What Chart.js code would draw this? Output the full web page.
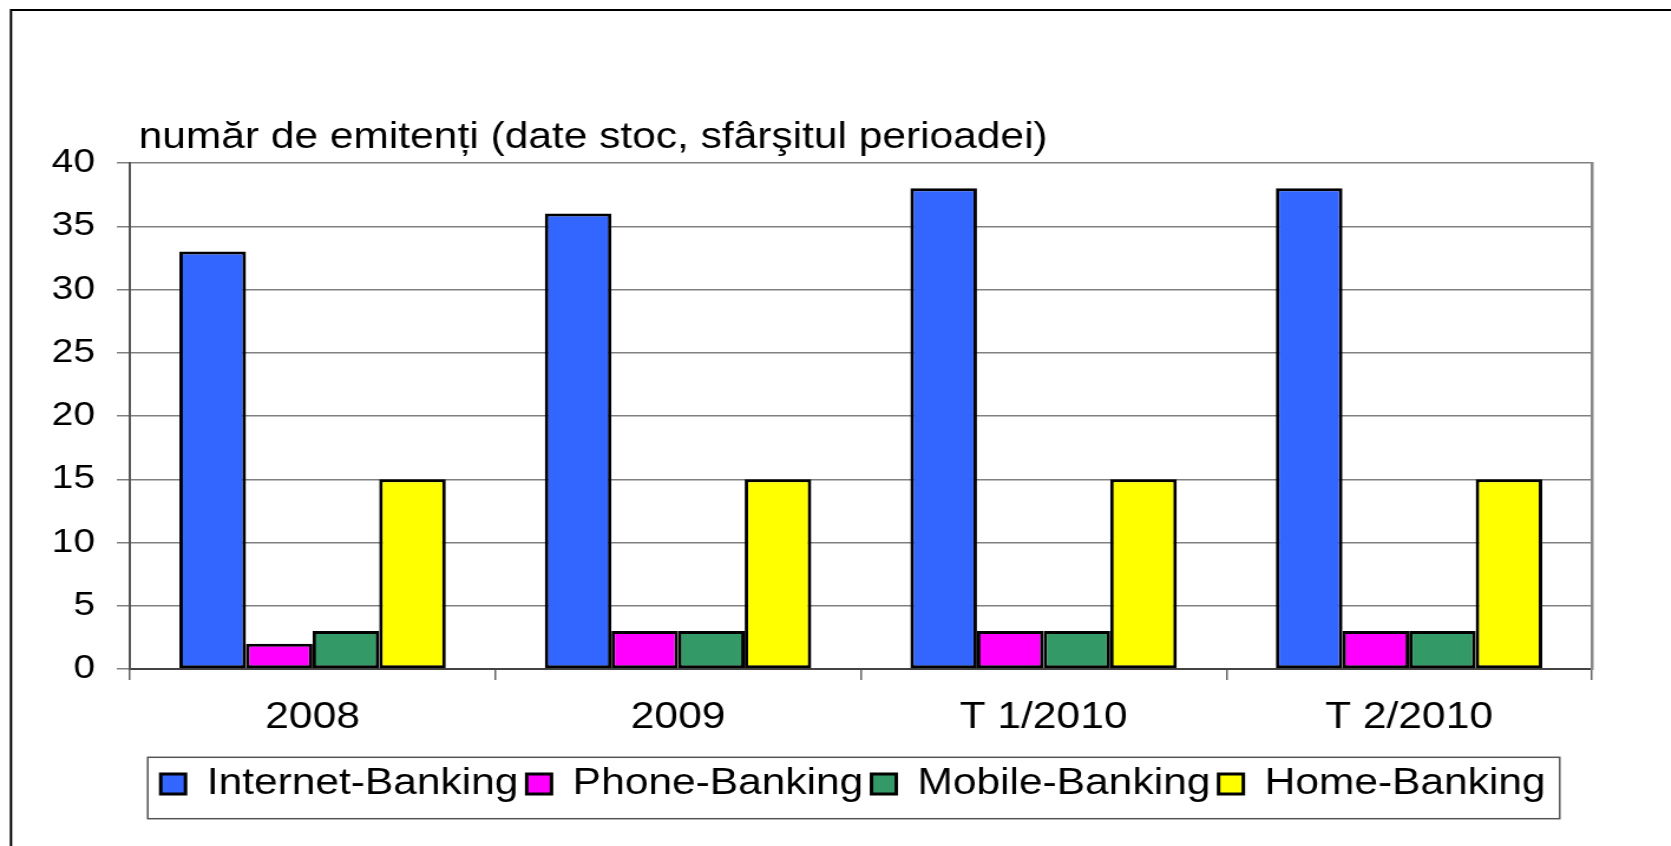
<!DOCTYPE html>
<html>
<head>
<meta charset="utf-8">
<script src="https://cdn.jsdelivr.net/npm/chart.js@4/dist/chart.umd.min.js"></script>
<style>
  html, body { margin: 0; padding: 0; background: #fff; overflow: hidden; }
  /* the original picture is stretched sideways, so the canvas is too */
  #wrap { width: 1416px; height: 846px; transform: scaleX(1.18); transform-origin: 0 0; }
</style>
</head>
<body>
<div id="wrap"><canvas id="bar-chart" width="1416" height="846"></canvas></div>
<script>
const FONT = '"Liberation Sans", Arial, sans-serif';

const categories = ["2008", "2009", "T 1/2010", "T 2/2010"];
const internetBanking = [33, 36, 38, 38];
const phoneBanking = [2, 3, 3, 3];
const mobileBanking = [3, 3, 3, 3];
const homeBanking = [15, 15, 15, 15];
const yTicks = [0, 5, 10, 15, 20, 25, 30, 35, 40];
const axisTitle = "număr de emitenți (date stoc, sfârşitul perioadei)";

function bars(label, data, color) {
  return {
    label: label,
    data: data,
    backgroundColor: color,
    borderColor: "#000",
    borderWidth: 3,
    borderSkipped: false,
    categoryPercentage: 0.729,
    barPercentage: 1.0,
  };
}

// outer frame of the figure, the title above the plot and the legend frame
const decorations = {
  id: "decorations",
  beforeDraw(chart) {
    const ctx = chart.ctx;
    ctx.save();
    ctx.strokeStyle = "#000";
    ctx.lineWidth = 2;
    ctx.beginPath();
    ctx.moveTo(9.3, chart.height + 5);
    ctx.lineTo(9.3, 10);
    ctx.lineTo(chart.width + 5, 10);
    ctx.stroke();
    ctx.restore();
  },
  afterDraw(chart) {
    const ctx = chart.ctx;
    const area = chart.chartArea;
    ctx.save();
    ctx.font = "36px " + FONT;
    ctx.fillStyle = "#000";
    ctx.textAlign = "left";
    ctx.textBaseline = "alphabetic";
    ctx.fillText(axisTitle, area.left + 7.5, 148);

    const hb = chart.legend.legendHitBoxes;
    if (hb && hb.length) {
      const first = hb[0];
      const last = hb[hb.length - 1];
      const left = first.left - 11;
      const right = last.left + last.width + 12;
      const top = first.top - 8.7;
      const bottom = first.top + 52.7;
      ctx.strokeStyle = "#555";
      ctx.lineWidth = 1.5;
      ctx.strokeRect(left, top, right - left, bottom - top);
    }
    ctx.restore();
  },
};

new Chart(document.getElementById("bar-chart"), {
  type: "bar",
  data: {
    labels: categories,
    datasets: [
      bars("Internet-Banking", internetBanking, "#3366FF"),
      bars("Phone-Banking", phoneBanking, "#FF00FF"),
      bars("Mobile-Banking", mobileBanking, "#339966"),
      bars("Home-Banking", homeBanking, "#FFFF00"),
    ],
  },
  options: {
    responsive: false,
    animation: false,
    layout: { padding: { left: 30, right: 0, top: 163, bottom: 34 } },
    plugins: {
      title: { display: false },
      tooltip: { enabled: false },
      legend: {
        position: "bottom",
        labels: {
          font: { family: FONT, size: 36 },
          color: "#000",
          boxWidth: 21,
          boxHeight: 20,
          padding: 7,
        },
      },
    },
    scales: {
      x: {
        grid: {
          display: true,
          drawOnChartArea: false,
          drawTicks: true,
          tickLength: 11,
          color: "#666",
          lineWidth: 1.5,
        },
        border: { display: true, color: "#444", width: 2 },
        ticks: {
          font: { family: FONT, size: 36 },
          color: "#000",
          padding: 16,
          maxRotation: 0,
          autoSkip: false,
        },
        afterFit(scale) { scale.height = 90; },
      },
      y: {
        min: 0,
        max: 40,
        afterBuildTicks(scale) { scale.ticks = yTicks.map(v => ({ value: v })); },
        grid: { color: "#808080", lineWidth: 1.5, tickLength: 11 },
        border: { display: true, color: "#555", width: 2 },
        ticks: {
          font: { family: FONT, size: 33 },
          color: "#000",
          padding: 18.5,
        },
        afterFit(scale) { scale.width = 80; },
      },
      y2: {
        position: "right",
        display: true,
        grid: { display: false },
        border: { display: true, color: "#888", width: 2.5 },
        ticks: { display: false },
        afterFit(scale) { scale.width = 67; },
      },
    },
  },
  plugins: [decorations],
});
</script>
</body>
</html>
